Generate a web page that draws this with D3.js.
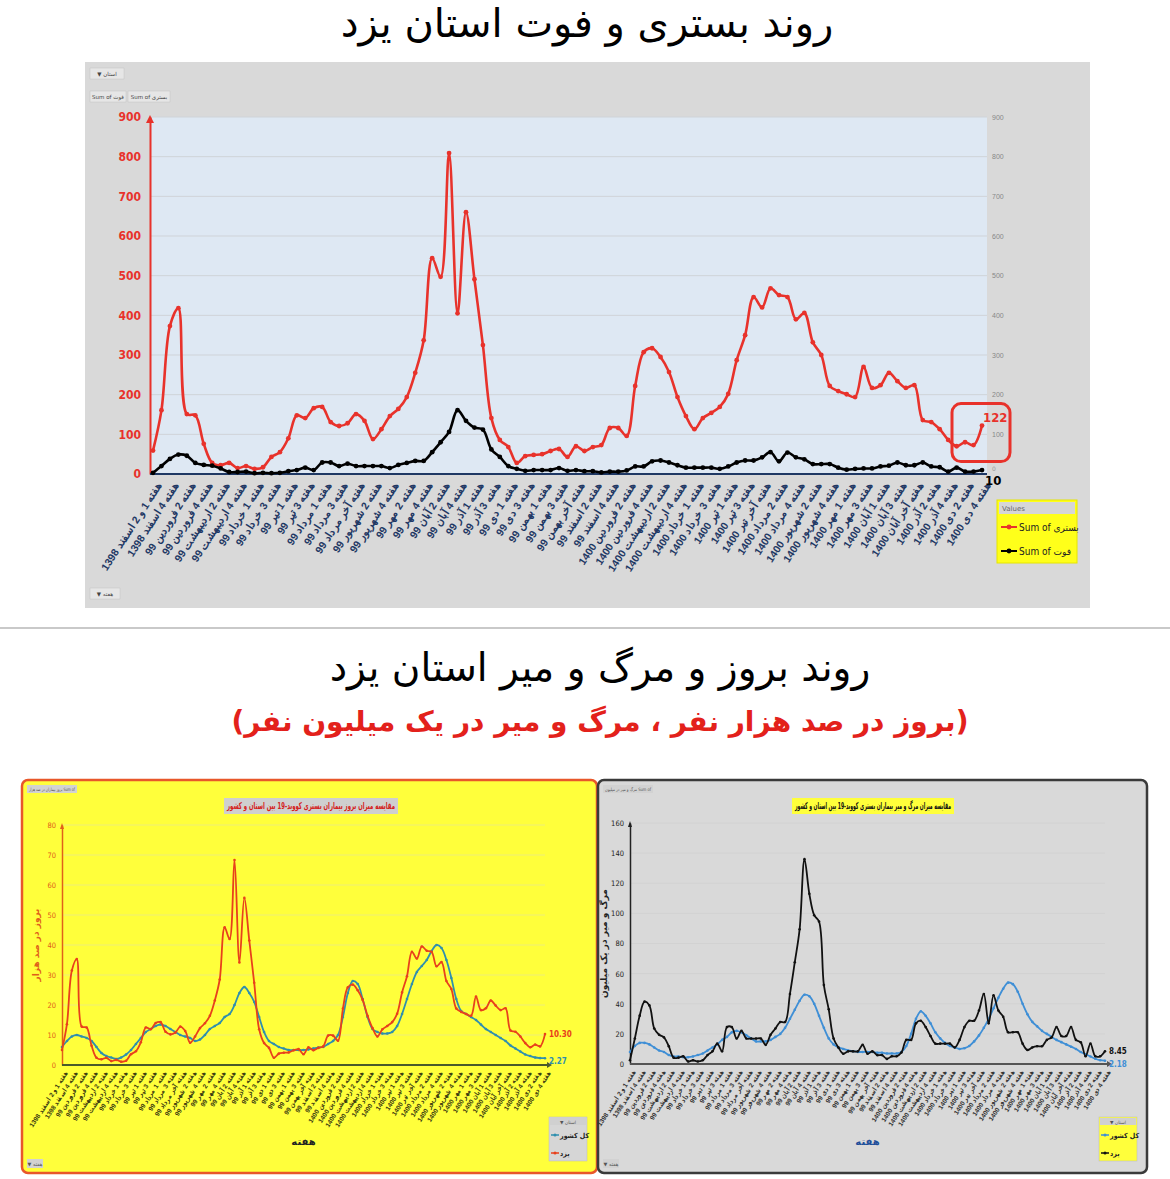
<!DOCTYPE html>
<html>
<head>
<meta charset="utf-8">
<script src="https://cdn.jsdelivr.net/npm/d3@7"></script>
<style>
  body { margin: 0; background: #fff; }
  svg { display: block; font-family: "DejaVu Sans", sans-serif; }
</style>
</head>
<body>
<svg id="chart" width="1170" height="1179"></svg>
<script>
// week labels (every second week is labelled on the axis)
const tickLabels = [
  "هفته 1 و 2 اسفند 1398", "هفته 4 اسفند 1398", "هفته 2 فروردین 99", "هفته 4 فروردین 99",
  "هفته 2 اردیبهشت 99", "هفته 4 اردیبهشت 99", "هفته 1 خرداد 99", "هفته 3 خرداد 99",
  "هفته 1 تیر 99", "هفته 3 تیر 99", "هفته 1 مرداد 99", "هفته 3 مرداد 99",
  "هفته آخر مرداد 99", "هفته 2 شهریور 99", "هفته 4 شهریور 99", "هفته 2 مهر 99",
  "هفته 4 مهر 99", "هفته 2 آبان 99", "هفته 4 آبان 99", "هفته 1 آذر 99",
  "هفته 3 آذر 99", "هفته 1 دی 99", "هفته 3 دی 99", "هفته 1 بهمن 99",
  "هفته 3 بهمن 99", "هفته آخر بهمن 99", "هفته 2 اسفند 99", "هفته 4 اسفند 99",
  "هفته 2 فروردین 1400", "هفته 4 فروردین 1400", "هفته 2 اردیبهشت 1400", "هفته 4 اردیبهشت 1400",
  "هفته 1 خرداد 1400", "هفته 3 خرداد 1400", "هفته 1 تیر 1400", "هفته 3 تیر 1400",
  "هفته آخر تیر 1400", "هفته 2 مرداد 1400", "هفته 4 مرداد 1400", "هفته 2 شهریور 1400",
  "هفته 4 شهریور 1400", "هفته 1 مهر 1400", "هفته 3 مهر 1400", "هفته 1 آبان 1400",
  "هفته 3 آبان 1400", "هفته آخر آبان 1400", "هفته 2 آذر 1400", "هفته 4 آذر 1400",
  "هفته 2 دی 1400", "هفته 4 دی 1400"
];

// top chart: hospitalised (بستری) and deaths (فوت), weekly counts
const hospital = [
  59, 161, 373, 418, 151, 148, 76, 28, 22, 28,
  15, 20, 13, 17, 43, 55, 90, 148, 141, 166,
  169, 131, 121, 128, 151, 134, 88, 113, 146, 164,
  194, 255, 337, 544, 497, 809, 405, 660, 491, 325,
  141, 86, 68, 28, 45, 48, 50, 58, 63, 43,
  70, 58, 68, 73, 116, 116, 96, 222, 307, 317,
  295, 257, 194, 146, 113, 141, 154, 169, 202, 287,
  350, 446, 420, 468, 451, 446, 390, 406, 332, 300,
  222, 209, 201, 194, 270, 217, 224, 255, 234, 217,
  224, 136, 131, 113, 86, 70, 80, 73, 122
];
const deaths = [
  3, 20, 38, 49, 46, 28, 23, 21, 14, 5,
  5, 6, 2, 3, 2, 3, 7, 10, 16, 10,
  29, 29, 20, 26, 20, 20, 20, 20, 15, 23,
  28, 33, 33, 55, 80, 106, 161, 134, 117, 112,
  62, 43, 20, 13, 8, 10, 10, 10, 15, 8,
  10, 7, 7, 4, 6, 6, 9, 19, 19, 32,
  34, 29, 22, 16, 16, 16, 16, 13, 19, 29,
  34, 34, 42, 55, 32, 54, 42, 37, 25, 25,
  25, 16, 11, 13, 14, 14, 19, 21, 29, 22,
  22, 29, 19, 17, 6, 16, 6, 6, 10
];
const topTicks = [0, 100, 200, 300, 400, 500, 600, 700, 800, 900];

// bottom-left: hospitalisation incidence per 100k
const yazdIncidence = [
  5.0, 13.6, 31.5, 35.3, 12.8, 12.5, 6.4, 2.4, 1.9, 2.4,
  1.3, 1.7, 1.1, 1.4, 3.6, 4.6, 7.6, 12.5, 11.9, 14.0,
  14.3, 11.1, 10.2, 10.8, 12.8, 11.3, 7.4, 9.5, 12.3, 13.9,
  16.4, 21.5, 28.5, 45.9, 42.0, 68.3, 34.2, 55.7, 41.5, 27.4,
  11.9, 7.3, 5.7, 2.4, 3.8, 4.1, 4.2, 4.9, 5.3, 3.6,
  5.9, 4.9, 5.7, 6.2, 9.8, 9.8, 8.1, 18.8, 25.9, 26.8,
  24.9, 21.7, 16.4, 12.3, 9.5, 11.9, 13.0, 14.3, 17.1, 24.2,
  29.6, 37.7, 35.5, 39.5, 38.1, 37.7, 32.9, 34.3, 28.0, 25.3,
  18.8, 17.7, 17.0, 16.4, 22.8, 18.3, 18.9, 21.5, 19.8, 18.3,
  18.9, 11.5, 11.1, 9.5, 7.3, 5.9, 6.8, 6.2, 10.3
];
const countryIncidence = [
  6, 8, 9.5, 10, 9.5, 9, 8, 6, 4, 3,
  2.5, 2, 2.5, 3.5, 5, 7, 9, 11, 12, 13,
  13.5, 13, 12, 11, 10, 9.5, 9, 8, 8.5, 10,
  12, 13, 14, 16, 17, 20, 24, 26, 24, 21,
  16, 11, 8, 7, 6, 5.5, 5, 5, 5, 5,
  5.2, 5.5, 5.8, 6, 7, 8, 10, 16, 24, 28,
  27, 22, 16, 12, 11, 10.5, 10.5, 11, 13, 17,
  22, 27, 31, 33, 35, 38, 40, 39, 35, 29,
  22, 18, 17, 16, 15, 13.5, 12, 11, 10, 9,
  8, 6.5, 5.5, 4.5, 3.5, 3, 2.5, 2.3, 2.27
];
const incidenceTicks = [0, 10, 20, 30, 40, 50, 60, 70, 80];

// bottom-right: mortality per million
const yazdMortality = [
  2.5, 16.9, 32.1, 41.4, 38.9, 23.6, 19.4, 17.7, 11.8, 4.2,
  4.2, 5.1, 1.7, 2.5, 1.7, 2.5, 5.9, 8.4, 13.5, 8.4,
  24.5, 24.5, 16.9, 22.0, 16.9, 16.9, 16.9, 16.9, 12.7, 19.4,
  23.6, 27.9, 27.9, 46.5, 67.6, 89.5, 136, 113, 98.8, 94.6,
  52.4, 36.3, 16.9, 11.0, 6.8, 8.4, 8.4, 8.4, 12.7, 6.8,
  8.4, 5.9, 5.9, 3.4, 5.1, 5.1, 7.6, 16.0, 16.0, 27.0,
  28.7, 24.5, 18.6, 13.5, 13.5, 13.5, 13.5, 11.0, 16.0, 24.5,
  28.7, 28.7, 35.5, 46.5, 27.0, 45.6, 35.5, 31.3, 21.1, 21.1,
  21.1, 13.5, 9.3, 11.0, 11.8, 11.8, 16.0, 17.7, 24.5, 18.6,
  18.6, 24.5, 16.0, 14.4, 5.1, 13.5, 5.1, 5.1, 8.45
];
const countryMortality = [
  8, 12, 14, 14, 13, 11, 9, 8, 6, 5,
  5, 4.5, 4.5, 5, 6, 7, 9, 11, 13, 16,
  18, 21, 22, 21, 19, 17, 15, 15, 15, 16,
  18, 20, 24, 30, 36, 42, 46, 45, 40, 32,
  24, 17, 13, 11, 10, 9, 8.5, 8, 8, 8,
  8, 7.5, 7.5, 7, 7, 7, 8, 12, 20, 30,
  35, 32, 27, 21, 17, 14, 12, 11, 10, 10.5,
  12, 15, 19, 24, 30, 37, 44, 50, 54, 53,
  48, 40, 33, 28, 25, 22, 20, 18, 16, 14.5,
  13, 11.5, 10, 8, 6.5, 5, 3.5, 2.5, 2.18
];
const mortalityTicks = [0, 20, 40, 60, 80, 100, 120, 140, 160];

const svg = d3.select("#chart");
svg.append("rect").attr("width", 1170).attr("height", 1179).attr("fill", "#fff");

// ---------- top chart ----------
svg.append("text")
  .attr("x", 587).attr("y", 37)
  .attr("text-anchor", "middle").attr("direction", "rtl")
  .style("font-size", "40px")
  .text("روند بستری و فوت استان یزد");

svg.append("rect").attr("x", 85).attr("y", 62).attr("width", 1005).attr("height", 546).attr("fill", "#d9d9d9");

const x1 = d3.scalePoint().domain(d3.range(hospital.length)).range([153, 982]);
const y1 = d3.scaleLinear().domain([0, 900]).range([474, 117]);

svg.append("rect").attr("x", 150).attr("y", 117).attr("width", 837).attr("height", 357).attr("fill", "#dee8f3");

svg.append("g")
  .selectAll("line")
  .data(topTicks.slice(1))
  .join("line")
  .attr("x1", 150).attr("x2", 987)
  .attr("y1", (d) => y1(d)).attr("y2", (d) => y1(d))
  .attr("stroke", "#cfd3d8").attr("stroke-width", 1);

svg.append("g")
  .attr("transform", "translate(150,0)")
  .call(d3.axisLeft(y1).tickValues(topTicks).tickSize(0).tickPadding(9))
  .call((g) => g.select(".domain").attr("stroke", "#e8322b").attr("stroke-width", 2))
  .selectAll("text")
  .style("font-family", "'DejaVu Sans Condensed', sans-serif")
  .style("font-size", "12px")
  .style("font-weight", "bold")
  .style("fill", "#e8322b");

svg.append("path")
  .attr("d", `M146,${y1(900) + 6}L150,${y1(900) - 2}L154,${y1(900) + 6}Z`)
  .attr("fill", "#e8322b");

svg.append("g")
  .attr("transform", "translate(987,0)")
  .call(d3.axisRight(y1).tickValues(topTicks.slice(1)).tickSize(0).tickPadding(5))
  .call((g) => g.select(".domain").remove())
  .selectAll("text")
  .style("font-size", "7px")
  .style("fill", "#888");
// right-axis zero, partly hidden behind the last death value
svg.append("text")
  .attr("x", 992).attr("y", y1(0) - 3)
  .style("font-size", "6px").style("fill", "#999")
  .text(topTicks[0]);

svg.append("g")
  .attr("class", "xAxis")
  .attr("transform", "translate(0,474)")
  .call(
    d3.axisBottom(x1)
      .tickValues(d3.range(0, hospital.length, 2))
      .tickFormat((i) => tickLabels[i / 2])
      .tickSize(0)
  )
  .call((g) => g.select(".domain").attr("stroke", "#1f3864").attr("stroke-width", 2).attr("d", "M150,0H987"))
  .selectAll("text")
  .attr("transform", "translate(4,8) rotate(-57)")
  .attr("text-anchor", "end")
  .attr("dy", "0.3em")
  .style("font-size", "10.5px")
  .style("font-weight", "bold")
  .style("fill", "#1f3864");

const topLine = d3.line()
  .x((d, i) => x1(i))
  .y((d) => y1(d))
  .curve(d3.curveCatmullRom.alpha(0.5));

[[hospital, "#e8322b"], [deaths, "#000"]].forEach(([values, color]) => {
  svg.append("path")
    .datum(values)
    .attr("fill", "none")
    .attr("stroke", color)
    .attr("stroke-width", 2.6)
    .attr("d", topLine);
  svg.append("g")
    .selectAll("circle")
    .data(values)
    .join("circle")
    .attr("cx", (d, i) => x1(i))
    .attr("cy", (d) => y1(d))
    .attr("r", 2.4)
    .attr("fill", color);
});

// last value call-outs
const lastI = hospital.length - 1;
svg.append("rect")
  .attr("x", x1(lastI) - 30).attr("y", y1(122) - 22)
  .attr("width", 58).attr("height", 58).attr("rx", 9)
  .attr("fill", "none").attr("stroke", "#e8322b").attr("stroke-width", 3);
svg.append("text")
  .attr("x", x1(lastI) + 1).attr("y", y1(hospital[lastI]) - 4)
  .style("font-family", "'DejaVu Sans Condensed', sans-serif")
  .style("font-size", "13px").style("font-weight", "bold").style("fill", "#e8322b")
  .text(hospital[lastI]);
svg.append("text")
  .attr("x", x1(lastI) + 3).attr("y", y1(0) + 11)
  .style("font-family", "'DejaVu Sans Condensed', sans-serif")
  .style("font-size", "13px").style("font-weight", "bold").style("fill", "#000")
  .text(deaths[lastI]);

// pivot buttons
function button(x, y, w, label) {
  svg.append("rect").attr("x", x).attr("y", y).attr("width", w).attr("height", 11)
    .attr("fill", "#e6e6e6").attr("stroke", "#c4c4c4").attr("stroke-width", 0.5);
  svg.append("text").attr("x", x + w / 2).attr("y", y + 8).attr("text-anchor", "middle")
    .style("font-size", "5.5px").style("fill", "#444").text(label);
}
button(90, 68, 34, "▼ استان");
button(90, 91, 36, "Sum of فوت");
button(128, 91, 42, "Sum of بستری");
button(90, 588, 30, "▼ هفته");

// top legend
const legend = svg.append("g").attr("transform", "translate(997,500)");
legend.append("rect").attr("width", 80).attr("height", 63).attr("fill", "#ffff1a")
  .attr("stroke", "#e6e600").attr("stroke-width", 1);
legend.append("rect").attr("x", 2).attr("y", 2).attr("width", 76).attr("height", 12).attr("fill", "#d6d6d6");
legend.append("text").attr("x", 5).attr("y", 11).style("font-size", "7px").style("fill", "#666").text("Values");
[["Sum of بستری", "#e8322b", 27], ["Sum of فوت", "#000", 51]].forEach(([name, color, yy]) => {
  legend.append("line").attr("x1", 4).attr("x2", 20).attr("y1", yy).attr("y2", yy)
    .attr("stroke", color).attr("stroke-width", 2);
  legend.append("circle").attr("cx", 12).attr("cy", yy).attr("r", 2.4).attr("fill", color);
  legend.append("text").attr("x", 22).attr("y", yy + 4)
    .style("font-family", "'DejaVu Sans Condensed', sans-serif")
    .style("font-size", "10px").style("fill", "#222").text(name);
});

svg.append("line").attr("x1", 0).attr("x2", 1170).attr("y1", 628).attr("y2", 628)
  .attr("stroke", "#c9c9c9").attr("stroke-width", 2);

// ---------- bottom titles ----------
svg.append("text")
  .attr("x", 600).attr("y", 681)
  .attr("text-anchor", "middle").attr("direction", "rtl")
  .style("font-size", "39px")
  .text("روند بروز و مرگ و میر استان یزد");
svg.append("text")
  .attr("x", 600).attr("y", 731)
  .attr("text-anchor", "middle").attr("direction", "rtl")
  .style("font-size", "28px").style("font-weight", "bold").style("fill", "#e3211b")
  .text("(بروز در صد هزار نفر ، مرگ و میر در یک میلیون نفر)");

// ---------- bottom panels ----------
function drawPanel(p) {
  const g = svg.append("g");
  g.append("rect")
    .attr("x", p.x0).attr("y", 780).attr("width", p.w).attr("height", 393).attr("rx", 6)
    .attr("fill", p.bg).attr("stroke", p.border).attr("stroke-width", 2.5);

  const x = d3.scalePoint().domain(d3.range(p.yazd.length)).range([p.left, p.right]);
  const y = d3.scaleLinear().domain([0, p.ticks[p.ticks.length - 1]]).range([p.bottom, p.top]);

  g.append("g")
    .selectAll("line")
    .data(p.ticks.slice(1))
    .join("line")
    .attr("x1", p.left).attr("x2", p.right)
    .attr("y1", (d) => y(d)).attr("y2", (d) => y(d))
    .attr("stroke", p.grid).attr("stroke-width", 1);

  g.append("g")
    .attr("transform", `translate(${p.left},0)`)
    .call(d3.axisLeft(y).tickValues(p.ticks).tickSize(0).tickPadding(6))
    .call((a) => a.select(".domain").attr("stroke", p.yAxisColor).attr("stroke-width", 1.5))
    .selectAll("text")
    .style("font-family", "'DejaVu Sans Condensed', sans-serif")
    .style("font-size", "7.5px")
    .style("fill", p.yAxisColor);
  g.append("path")
    .attr("d", `M${p.left - 2},${p.top + 4}L${p.left},${p.top - 2}L${p.left + 2},${p.top + 4}Z`)
    .attr("fill", p.yAxisColor);

  g.append("g")
    .attr("transform", `translate(0,${p.bottom})`)
    .call(
      d3.axisBottom(x)
        .tickValues(d3.range(0, p.yazd.length, 2))
        .tickFormat((i) => tickLabels[i / 2])
        .tickSize(0)
    )
    .call((a) => a.select(".domain").attr("stroke", p.xAxisColor).attr("stroke-width", 2)
      .attr("d", `M${p.left},0H${p.right + 4}`))
    .selectAll("text")
    .attr("transform", "translate(2,5) rotate(-57)")
    .attr("text-anchor", "end")
    .attr("dy", "0.3em")
    .style("font-size", "6.5px")
    .style("font-weight", "bold")
    .style("fill", p.labelColor);
  g.append("path")
    .attr("d", `M${p.right + 2},${p.bottom - 3}L${p.right + 7},${p.bottom}L${p.right + 2},${p.bottom + 3}Z`)
    .attr("fill", p.xAxisColor);

  const line = d3.line()
    .x((d, i) => x(i))
    .y((d) => y(d))
    .curve(d3.curveCatmullRom.alpha(0.5));

  [[p.country, p.countryColor], [p.yazd, p.yazdColor]].forEach(([values, color]) => {
    g.append("path").datum(values).attr("fill", "none")
      .attr("stroke", color).attr("stroke-width", 1.8).attr("d", line);
    g.append("g").selectAll("circle").data(values).join("circle")
      .attr("cx", (d, i) => x(i)).attr("cy", (d) => y(d)).attr("r", 1.3).attr("fill", color);
  });

  const n = p.yazd.length - 1;
  g.append("text").attr("x", x(n) + 4).attr("y", y(p.yazd[n]) + 3)
    .style("font-family", "'DejaVu Sans Condensed', sans-serif")
    .style("font-size", "8px").style("font-weight", "bold").style("fill", p.yazdColor)
    .text(p.yazd[n].toFixed(2));
  g.append("text").attr("x", x(n) + 4).attr("y", y(p.country[n]) + 6)
    .style("font-family", "'DejaVu Sans Condensed', sans-serif")
    .style("font-size", "8px").style("font-weight", "bold").style("fill", p.countryColor)
    .text(p.country[n].toFixed(2));

  // chart title with highlight box
  const box = g.append("rect").attr("fill", p.titleBg);
  const t = g.append("text")
    .attr("x", p.titleX).attr("y", 809)
    .attr("text-anchor", "middle").attr("direction", "rtl")
    .attr("textLength", p.titleW).attr("lengthAdjust", "spacingAndGlyphs")
    .style("font-size", "9.5px").style("font-weight", "bold").style("fill", p.titleColor)
    .text(p.title);
  const bb = t.node().getBBox();
  box.attr("x", p.titleX - p.titleW / 2 - 3).attr("y", bb.y - 2)
    .attr("width", p.titleW + 6).attr("height", bb.height + 4);

  g.append("text")
    .attr("transform", `translate(${p.left - 23},${(p.top + p.bottom) / 2}) rotate(-90)`)
    .attr("text-anchor", "middle").attr("direction", "rtl")
    .style("font-size", "9px").style("font-weight", "bold").style("fill", p.yAxisColor)
    .text(p.yTitle);

  g.append("text")
    .attr("x", (p.left + p.right) / 2).attr("y", 1145)
    .attr("text-anchor", "middle")
    .style("font-size", "10px").style("font-weight", "bold").style("fill", p.xTitleColor)
    .text("هفته");

  // small pivot tags
  g.append("rect").attr("x", p.x0 + 5).attr("y", 785).attr("width", 50).attr("height", 8).attr("fill", "#d2d2d2");
  g.append("text").attr("x", p.x0 + 30).attr("y", 791).attr("text-anchor", "middle")
    .attr("textLength", 46).attr("lengthAdjust", "spacingAndGlyphs")
    .style("font-size", "4.5px").style("fill", "#555").text(p.tag);
  g.append("rect").attr("x", p.x0 + 5).attr("y", 1159).attr("width", 16).attr("height", 9).attr("fill", "#d2d2d2");
  g.append("text").attr("x", p.x0 + 13).attr("y", 1166).attr("text-anchor", "middle")
    .style("font-size", "5px").style("fill", "#555").text("▼ هفته");

  // legend
  const lg = g.append("g").attr("transform", `translate(${p.legendX},1117)`);
  lg.append("rect").attr("width", 38).attr("height", 44).attr("fill", p.legendBg)
    .attr("stroke", "#bbb").attr("stroke-width", 0.5);
  lg.append("rect").attr("x", 1).attr("y", 1).attr("width", 36).attr("height", 7).attr("fill", "#d0d0d0");
  lg.append("text").attr("x", 19).attr("y", 7).attr("text-anchor", "middle")
    .style("font-size", "4.5px").style("fill", "#555").text("▼ استان");
  [["کل کشور", p.countryColor, 18], ["یزد", p.yazdColor, 36]].forEach(([name, color, yy]) => {
    lg.append("line").attr("x1", 2).attr("x2", 10).attr("y1", yy).attr("y2", yy)
      .attr("stroke", color).attr("stroke-width", 1.5);
    lg.append("circle").attr("cx", 6).attr("cy", yy).attr("r", 1.5).attr("fill", color);
    lg.append("text").attr("x", 11).attr("y", yy + 3)
      .style("font-family", "'DejaVu Sans Condensed', sans-serif")
      .style("font-size", "7px").style("font-weight", "bold").style("fill", "#222").text(name);
  });
}

drawPanel({
  x0: 22, w: 575, bg: "#ffff3b", border: "#e8572a",
  left: 62, right: 545, top: 825, bottom: 1065,
  ticks: incidenceTicks, grid: "#eded7a",
  yazd: yazdIncidence, country: countryIncidence,
  yazdColor: "#e8401c", countryColor: "#2f8fae",
  yAxisColor: "#e0601a", xAxisColor: "#4a5a2a", labelColor: "#3a3a10",
  title: "مقایسه میزان بروز بیماران بستری کووید-19 بین استان و کشور",
  titleX: 311, titleW: 168, titleColor: "#d42020", titleBg: "#cfcfcf",
  yTitle: "بروز در صد هزار", xTitleColor: "#222",
  tag: "بروز بیماران در صد هزار Sum of",
  legendX: 549, legendBg: "#d6d6d6"
});

drawPanel({
  x0: 598, w: 549, bg: "#d9d9d9", border: "#3a3a3a",
  left: 630, right: 1105, top: 823, bottom: 1064,
  ticks: mortalityTicks, grid: "#d2d2d2",
  yazd: yazdMortality, country: countryMortality,
  yazdColor: "#111", countryColor: "#3f8fd6",
  yAxisColor: "#222", xAxisColor: "#555", labelColor: "#333",
  title: "مقایسه میزان مرگ و میر بیماران بستری کووید-19 بین استان و کشور",
  titleX: 873, titleW: 156, titleColor: "#111", titleBg: "#ffff3b",
  yTitle: "مرگ و میر در یک میلیون", xTitleColor: "#1f4e9a",
  tag: "مرگ و میر در میلیون Sum of",
  legendX: 1099, legendBg: "#ffff3b"
});
</script>
</body>
</html>
